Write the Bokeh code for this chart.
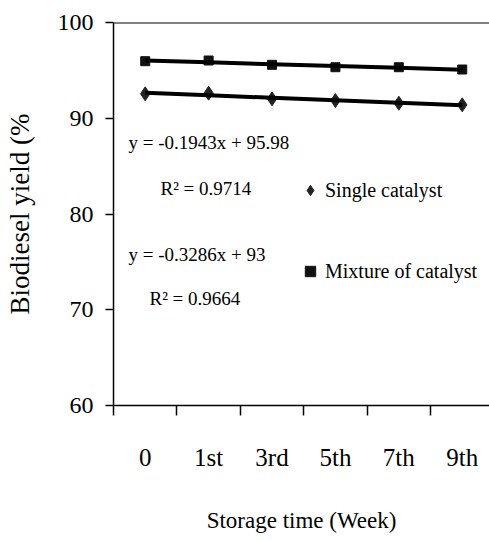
import numpy as np
from bokeh.plotting import figure
from bokeh.models import (Range1d, FixedTicker, Label, Legend, LegendItem, Span)
from bokeh.embed import file_html
from bokeh.resources import INLINE

# ---- data ----
weeks = ["0", "1st", "3rd", "5th", "7th", "9th"]
single_catalyst = [92.55, 92.62, 92.03, 91.85, 91.57, 91.40]     # diamonds
mixture_catalyst = [95.96, 96.03, 95.58, 95.33, 95.33, 95.09]    # squares
y_ticks = [60, 70, 80, 90, 100]
eq_mixture = "y = -0.1943x + 95.98"
r2_mixture = "R\u00b2 = 0.9714"
eq_single = "y = -0.3286x + 93"
r2_single = "R\u00b2 = 0.9664"

SERIF = "Liberation Serif"

xs = np.arange(len(weeks)) + 0.5

p = figure(width=489, height=540, output_backend="svg", toolbar_location=None,
           x_range=Range1d(0, 5.93), y_range=Range1d(60, 100),
           min_border_left=113, min_border_top=22, min_border_right=0,
           min_border_bottom=135)
p.outline_line_color = None
p.xgrid.visible = False
p.ygrid.visible = False
p.background_fill_color = "white"

# x axis: labels at category centres, tick marks between categories
xt = FixedTicker(ticks=list(xs), minor_ticks=list(np.arange(len(weeks) + 1)))
p.xaxis.ticker = xt
p.xaxis.major_label_overrides = {float(v): w for v, w in zip(xs, weeks)}
p.xaxis.major_tick_line_alpha = 0
p.xaxis.major_tick_out = 10
p.xaxis.minor_tick_in = 0
p.xaxis.minor_tick_out = 10
p.xaxis.minor_tick_line_color = "black"
p.xaxis.minor_tick_line_width = 1.5
p.xaxis.axis_line_width = 1.5
p.xaxis.major_label_text_font = SERIF
p.xaxis.major_label_text_font_size = "25px"
p.xaxis.major_label_text_color = "black"
p.xaxis.major_label_standoff = 28
p.xaxis.axis_label = "Storage time (Week)"
p.xaxis.axis_label_text_font = SERIF
p.xaxis.axis_label_text_font_style = "normal"
p.xaxis.axis_label_text_font_size = "23px"
p.xaxis.axis_label_text_color = "black"
p.xaxis.axis_label_standoff = 34

p.yaxis.ticker = FixedTicker(ticks=y_ticks)
p.yaxis.minor_tick_line_color = None
p.yaxis.major_tick_in = 0
p.yaxis.major_tick_out = 8
p.yaxis.major_tick_line_width = 1.5
p.yaxis.axis_line_width = 1.5
p.yaxis.major_label_text_font = SERIF
p.yaxis.major_label_text_font_size = "24px"
p.yaxis.major_label_text_color = "black"
p.yaxis.major_label_standoff = 12
p.yaxis.axis_label = "Biodiesel yield (%"
p.yaxis.axis_label_text_font = SERIF
p.yaxis.axis_label_text_font_style = "normal"
p.yaxis.axis_label_text_font_size = "27px"
p.yaxis.axis_label_text_color = "black"
p.yaxis.axis_label_standoff = 20

p.add_layout(Span(location=100, dimension="width", line_color="black", line_width=2))

# markers
r_single = p.scatter(xs, single_catalyst, marker="diamond", size=14,
                     fill_color="#222222", line_color="#222222")
r_mix = p.scatter(xs, mixture_catalyst, marker="square", size=9,
                  fill_color="#111111", line_color="#111111")

# linear trend lines
for ys in (single_catalyst, mixture_catalyst):
    k, b = np.polyfit(xs, ys, 1)
    p.line(xs, k * xs + b, line_color="black", line_width=4)

# equation texts
def px2x(px):
    return (px - 113) / 63.4

def py2y(py):
    return 100 - (py - 22) / 9.575

for txt, lx, ly in [(eq_mixture, 128, 142), (r2_mixture, 160, 188),
                    (eq_single, 128, 254), (r2_single, 149, 298)]:
    p.add_layout(Label(x=px2x(lx), y=py2y(ly), text=txt, text_font=SERIF,
                       text_font_size="19px", text_color="black",
                       text_baseline="middle", text_align="left"))

legend = Legend(items=[LegendItem(label="Single catalyst", renderers=[r_single]),
                       LegendItem(label="Mixture of catalyst", renderers=[r_mix])],
                location=(184, 121), orientation="vertical",
                border_line_color=None, background_fill_alpha=0,
                padding=0, margin=0, spacing=55, label_standoff=2,
                glyph_width=26, glyph_height=26, label_height=24,
                label_text_font=SERIF, label_text_font_size="20px",
                label_text_color="black")
p.add_layout(legend)

open("out.html", "w").write(file_html(p, INLINE))
